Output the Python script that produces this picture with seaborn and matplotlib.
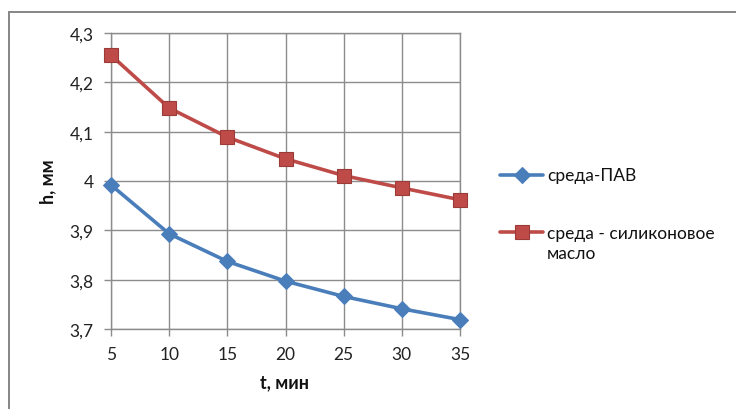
import matplotlib
matplotlib.use("Agg")
import matplotlib.pyplot as plt
import seaborn as sns
import pandas as pd
from matplotlib.lines import Line2D

t_min = [5, 10, 15, 20, 25, 30, 35]
h_pav = [3.992, 3.893, 3.837, 3.797, 3.766, 3.741, 3.719]
h_oil = [4.255, 4.148, 4.089, 4.045, 4.011, 3.986, 3.962]
series_names = ["среда-ПАВ", "среда - силиконовое\nмасло"]
y_ticks = [3.7, 3.8, 3.9, 4.0, 4.1, 4.2, 4.3]
y_tick_labels = ["3,7", "3,8", "3,9", "4", "4,1", "4,2", "4,3"]
x_ticks = [5, 10, 15, 20, 25, 30, 35]

sns.set_theme(style="white")
plt.rcParams["font.family"] = ["Lato", "DejaVu Sans"]

W, H = 736, 410
fig = plt.figure(figsize=(W / 100, H / 100), dpi=100)
ax = fig.add_axes([111 / W, 1 - 330 / H, (460 - 111) / W, (330 - 34) / H])

blue = "#4A7EBB"
red = "#BE4B48"
red_edge = "#9C3A37"

df = pd.DataFrame({
    "t": t_min * 2,
    "h": h_pav + h_oil,
    "s": [series_names[0]] * len(t_min) + [series_names[1]] * len(t_min),
})

sns.lineplot(data=df[df.s == series_names[0]], x="t", y="h", ax=ax, color=blue,
             lw=2.6, marker="D", markersize=8, markeredgecolor=blue, legend=False, zorder=3)
sns.lineplot(data=df[df.s == series_names[1]], x="t", y="h", ax=ax, color=red,
             lw=2.6, marker="s", markersize=10, markerfacecolor=red,
             markeredgecolor=red_edge, markeredgewidth=0.8, legend=False, zorder=3)

ax.set_xlim(5, 35)
ax.set_ylim(3.7, 4.3)
ax.set_xticks(x_ticks)
ax.set_xticklabels([str(v) for v in x_ticks])
ax.set_yticks(y_ticks)
ax.set_yticklabels(y_tick_labels)
grid_c = "#8C8C8C"
ax.grid(True, color=grid_c, lw=1.0)
for s in ax.spines.values():
    s.set_color(grid_c)
    s.set_linewidth(1.0)
ax.tick_params(axis="both", which="major", length=5, width=1.0, color=grid_c,
               labelsize=12.5, labelcolor="#222222", left=True, bottom=True)
ax.tick_params(axis="y", pad=7.5)
ax.tick_params(axis="x", pad=7)
ax.set_xlabel("t, мин", fontsize=13, fontweight="bold", color="#111111", va="center")
ax.set_ylabel("h, мм", fontsize=13, fontweight="bold", color="#111111", va="center")
ax.xaxis.set_label_coords((285 - 111) / 349, (330 - 383) / 296)
ax.yaxis.set_label_coords((48 - 111) / 349, (330 - 182) / 296)
for ln in ax.lines:
    ln.set_clip_on(False)

# legend (manual)
def fx(px):
    return px / W
def fy(py):
    return 1 - py / H

for (yy, col, mk, ms, mec) in [(176, blue, "D", 8, blue), (233, red, "s", 10, red_edge)]:
    fig.add_artist(Line2D([fx(500), fx(543)], [fy(yy), fy(yy)], color=col, lw=2.6,
                          transform=fig.transFigure))
    fig.add_artist(Line2D([fx(521.5)], [fy(yy)], color=col, marker=mk, markersize=ms,
                          markerfacecolor=col, markeredgecolor=mec, markeredgewidth=0.8,
                          transform=fig.transFigure))
fig.text(fx(547), fy(176), series_names[0], fontsize=12.5, va="center", ha="left", color="#111111")
fig.text(fx(547), fy(244), series_names[1], fontsize=12.5, va="center", ha="left",
         color="#111111", linespacing=1.3)

# outer chart border
border_c = "#868686"
fig.add_artist(Line2D([fx(9), fx(9)], [fy(13), 0], color=border_c, lw=1.4, transform=fig.transFigure))
fig.add_artist(Line2D([fx(9), 1], [fy(13), fy(13)], color=border_c, lw=1.4, transform=fig.transFigure))

fig.savefig("out.png", dpi=100)
